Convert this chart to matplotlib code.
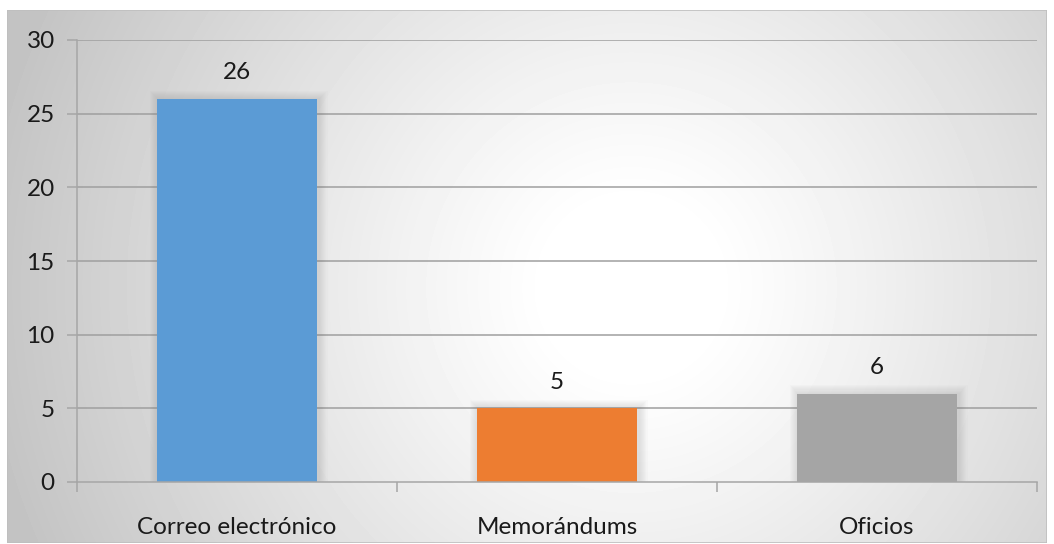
import numpy as np
import matplotlib
matplotlib.use("Agg")
import matplotlib.pyplot as plt
from matplotlib.patches import Rectangle

categories = ["Correo electrónico", "Memorándums", "Oficios"]
values = [26, 5, 6]
colors = ["#5b9bd5", "#ed7d31", "#a5a5a5"]
yticks = [0, 5, 10, 15, 20, 25, 30]

W, H = 1054, 544
fig = plt.figure(figsize=(W / 100, H / 100), dpi=100)
fig.patch.set_facecolor("white")

# chart area with radial gradient background
bx0, by0, bx1, by1 = 7, 10, 1047, 543
bw_px, bh_px = bx1 - bx0, by1 - by0
bg = fig.add_axes([bx0 / W, 1 - by1 / H, bw_px / W, bh_px / H])
bg.set_axis_off()
yy, xx = np.mgrid[0:bh_px, 0:bw_px]
cx, cy = 0.60 * bw_px, 0.52 * bh_px
r = np.sqrt(((xx - cx) / bw_px) ** 2 + ((yy - cy) / bw_px * 1.0) ** 2)
r = np.clip((r - 0.08) / 0.55, 0, 1)
shade = 1.0 - 0.235 * r ** 1.1
bg.imshow(shade, cmap="gray", vmin=0, vmax=1, aspect="auto",
          extent=[0, 1, 0, 1], interpolation="bicubic")
bg.set_xlim(0, 1)
bg.set_ylim(0, 1)
bg.add_patch(Rectangle((0, 0), 1, 1, fill=False, edgecolor="#bfbfbf",
                       lw=1.2, transform=bg.transAxes))

# plot area
ax_l, ax_r, ax_t, ax_b = 77, 1037, 40, 482
ax = fig.add_axes([ax_l / W, 1 - ax_b / H, (ax_r - ax_l) / W, (ax_b - ax_t) / H])
ax.patch.set_alpha(0)
x = np.arange(len(categories))
ax.set_xlim(-0.5, len(categories) - 0.5)
ax.set_ylim(0, 30)

for yv in yticks[1:]:
    ax.axhline(yv, color="#9f9f9f", lw=1.1, zorder=1)

# soft shadows behind bars
bw = 0.5
for xi, v in zip(x, values):
    for k in range(8):
        pad_x = 0.0035 * (k + 1)
        pad_y = 0.07 * (k + 1)
        ax.add_patch(Rectangle((xi - bw / 2 - pad_x + 0.005, -0.1),
                               bw + 2 * pad_x, v + pad_y + 0.1,
                               facecolor="#808080", edgecolor="none",
                               alpha=0.028, zorder=1.5))

ax.bar(x, values, width=bw, color=colors, zorder=2)

font = dict(fontsize=17.5, family="Lato", color="#1a1a1a")
for xi, v in zip(x, values):
    ax.text(xi, v + 1.05, str(v), ha="center", va="bottom", **font)

ax.set_yticks(yticks)
ax.set_yticklabels([str(t) for t in yticks], **font)
ax.set_xticks(x)
ax.set_xticklabels(categories, **font)
ax.set_xticks(np.arange(-0.5, len(categories)), minor=True)
ax.tick_params(axis="x", which="major", length=0, pad=25)
ax.tick_params(axis="x", which="minor", length=7, color="#a6a6a6", width=1.1)
ax.tick_params(axis="y", length=7, color="#a6a6a6", width=1.1, pad=9)

for s in ["top", "right"]:
    ax.spines[s].set_visible(False)
for s in ["left", "bottom"]:
    ax.spines[s].set_color("#a6a6a6")
    ax.spines[s].set_linewidth(1.1)

fig.savefig("out.png", dpi=100)
